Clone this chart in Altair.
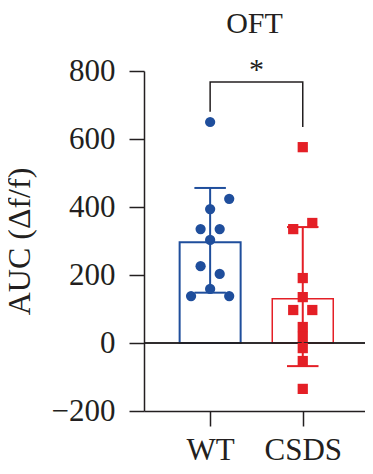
import altair as alt
import pandas as pd

# ---- data ----
groups = ["WT", "CSDS"]
colors = ["#1f4e9c", "#e41f26"]

wt_values = [650, 424, 394, 335, 335, 303, 226, 203, 159, 138, 138]
wt_slots = [0, 2, 0, -1, 1, 0, -1, 1, 0, -2, 2]
csds_values = [576, 353, 335, 191, 135, 97, 97, 47, 18, -15, -53, -135]
csds_slots = [0, 1, -1, 0, 0, -1, 1, 0, 0, 0, 0, 0]

bar_means = [296, 130]
err_low = [148, -68]
err_high = [456, 341]

bracket_x = [0, 0, 1, 1]
bracket_y = [680, 768, 768, 635]
sig_label = "*"
title_text = "OFT"
y_title = "AUC (\u0394f/f)"
y_ticks = [-200, 0, 200, 400, 600, 800]

FONT = "Liberation Serif"
INK = "#231f20"

# ---- tables ----
pts = pd.DataFrame(
    [{"group": groups[0], "gi": 0, "value": v, "slot": s} for v, s in zip(wt_values, wt_slots)]
    + [{"group": groups[1], "gi": 1, "value": v, "slot": s} for v, s in zip(csds_values, csds_slots)]
)
bars = pd.DataFrame({"group": groups, "gi": [0, 1], "mean": bar_means, "lo": err_low, "hi": err_high,
                     "sw": [2.0, 1.5]})
bracket = pd.DataFrame({"x": bracket_x, "y": bracket_y, "o": list(range(len(bracket_x)))})
star = pd.DataFrame({"x": [0.5], "y": [776], "t": [sig_label]})

xscale = alt.Scale(domain=[-0.66, 1.618], nice=False, zero=False)
yscale = alt.Scale(domain=[-200, 800], nice=False, zero=False)
color_scale = alt.Scale(domain=groups, range=colors)

x_axis = alt.Axis(
    values=[0, 1],
    labelExpr=f"{groups}[datum.value]",
    title=None,
    labelPadding=9,
)
y_axis = alt.Axis(values=y_ticks, title=y_title, titlePadding=15, labelPadding=14,
                  titleFontSize=32)

base_bar = alt.Chart(bars)

bar_layer = base_bar.mark_bar(width=61, fill="white").encode(
    x=alt.X("gi:Q", scale=xscale, axis=x_axis),
    y=alt.Y("mean:Q", scale=yscale, axis=y_axis),
    y2=alt.datum(0),
    stroke=alt.Stroke("group:N", scale=color_scale, legend=None),
    strokeWidth=alt.StrokeWidth("sw:Q", scale=None, legend=None),
)

zero_line = alt.Chart(bars).mark_rule(color=INK, strokeWidth=1.5).encode(
    y=alt.YDatum(0)
)

err_line = base_bar.mark_rule(strokeWidth=2).encode(
    x="gi:Q",
    y="lo:Q",
    y2="hi:Q",
    color=alt.Color("group:N", scale=color_scale, legend=None),
)

caps_lo = base_bar.transform_calculate(xl="datum.gi - 0.17", xr="datum.gi + 0.17").mark_rule(
    strokeWidth=2
).encode(
    x="xl:Q", x2="xr:Q", y="lo:Q",
    color=alt.Color("group:N", scale=color_scale, legend=None),
)
caps_hi = base_bar.transform_calculate(xl="datum.gi - 0.17", xr="datum.gi + 0.17").mark_rule(
    strokeWidth=2
).encode(
    x="xl:Q", x2="xr:Q", y="hi:Q",
    color=alt.Color("group:N", scale=color_scale, legend=None),
)

points = alt.Chart(pts).transform_calculate(
    xp="datum.gi + datum.slot * 0.103"
).mark_point(filled=True, opacity=1, size=105).encode(
    x="xp:Q",
    y="value:Q",
    color=alt.Color("group:N", scale=color_scale, legend=None),
    shape=alt.Shape("group:N", scale=alt.Scale(domain=groups, range=["circle", "square"]), legend=None),
)

bracket_line = alt.Chart(bracket).mark_line(color=INK, strokeWidth=1.5).encode(
    x="x:Q", y="y:Q", order="o:Q"
)

star_text = alt.Chart(star).mark_text(
    font=FONT, fontSize=30, color=INK, baseline="alphabetic"
).encode(x="x:Q", y="y:Q", text="t:N")

chart = alt.layer(
    bar_layer, zero_line, err_line, caps_lo, caps_hi, points, bracket_line, star_text
).properties(
    width=221,
    height=340,
    title=alt.TitleParams(title_text, font=FONT, fontSize=30, fontWeight="normal",
                          color=INK, anchor="middle", offset=16),
    autosize=alt.AutoSizeParams(type="none"),
    padding={"left": 136, "top": 63, "right": 0, "bottom": 54},
).configure_view(stroke=None).configure_axis(
    grid=False,
    domainColor=INK,
    domainWidth=1.5,
    tickColor=INK,
    tickWidth=1.5,
    tickSize=15,
    labelFont=FONT,
    labelFontSize=31,
    labelColor=INK,
    titleFont=FONT,
    titleFontSize=32,
    titleFontWeight="normal",
    titleColor=INK,
)

chart.save("out.html", embed_options={"renderer": "svg", "actions": False})
